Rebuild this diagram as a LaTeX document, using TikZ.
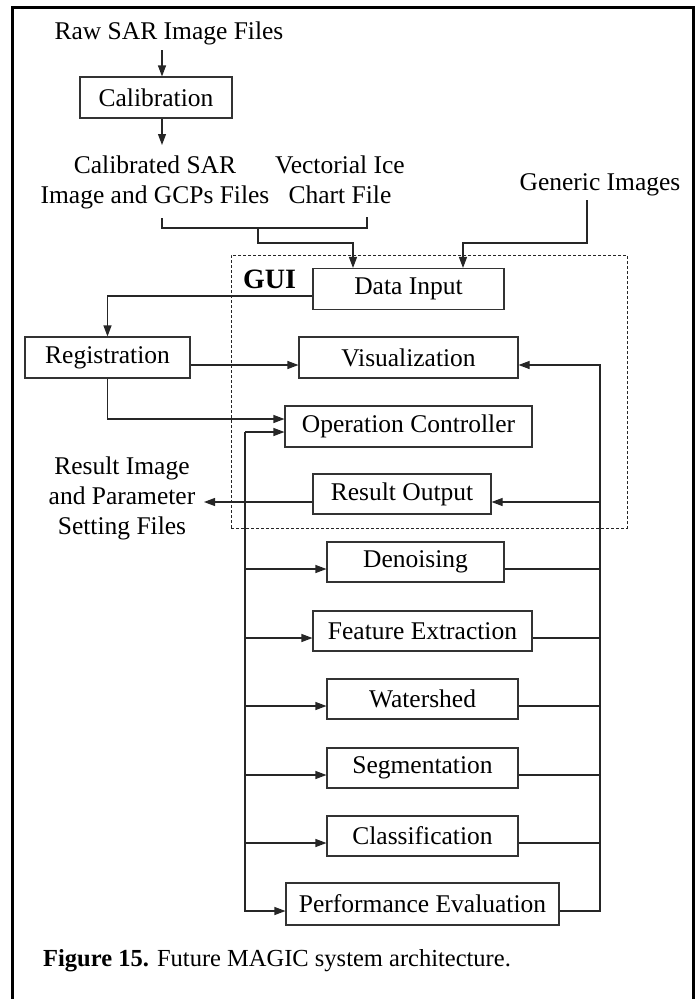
\documentclass[tikz,border=0pt]{standalone}
\usepackage{fontspec}
\setmainfont{Liberation Serif}
\usetikzlibrary{arrows.meta}
\begin{document}
\begin{tikzpicture}[x=1pt,y=-1pt,
  txt/.style={inner sep=0pt,font=\fontsize{25.5}{30}\selectfont,align=center},
  box/.style={txt,draw=black!80,line width=1.1pt,minimum height=41pt},
  conn/.style={line width=1.1pt,draw=black!85},
  arr/.style={conn,-{Triangle[length=11pt,width=8pt]}},
  guibox/.style={draw=black!85,line width=0.9pt,dash pattern=on 3pt off 2pt},
]
\useasboundingbox (0,0) rectangle (699,999);
\draw[line width=3pt,line join=miter] (12,1005) -- (12,7) -- (693,7) -- (693,1005);

% texts
\node[txt,anchor=base] (raw) at (169,39) {Raw SAR Image Files};
\node[box,minimum width=152pt] (cal) at (156,97.5) {Calibration};
\node[txt] (calsar) at (155,182) {Calibrated SAR\\Image and GCPs Files};
\node[txt] (vec) at (340,180) {Vectorial Ice\\Chart File};
\node[txt,anchor=base] (gen) at (600,190) {Generic Images};
\node[txt] (restxt) at (122,498) {Result Image\\and Parameter\\Setting Files};

% GUI region
\node[guibox,minimum width=396pt,minimum height=273pt,inner sep=0pt] (gui) at (429,391.5) {};
\node[inner sep=0pt,anchor=base west,font=\bfseries\fontsize{28}{30}\selectfont] (guilbl) at (243,288) {GUI};

% boxes
\node[box,minimum width=191pt] (din) at (408.5,289) {Data Input};
\node[box,minimum width=165pt] (reg) at (107.5,357.5) {Registration};
\node[box,minimum width=219pt] (vis) at (408.5,357.5) {Visualization};
\node[box,minimum width=247pt] (op) at (408.5,426.5) {Operation Controller};
\node[box,minimum width=178pt,minimum height=40pt] (rout) at (402,494) {Result Output};
\node[box,minimum width=177pt,minimum height=40pt] (den) at (415.5,562) {Denoising};
\node[box,minimum width=219pt,minimum height=40pt] (fe) at (422.5,631) {Feature Extraction};
\node[box,minimum width=191pt,minimum height=40pt] (ws) at (422.5,699) {Watershed};
\node[box,minimum width=191pt,minimum height=40pt] (seg) at (422.5,768) {Segmentation};
\node[box,minimum width=191pt,minimum height=40pt] (cls) at (422.5,836) {Classification};
\node[box,minimum width=273pt,minimum height=42pt] (perf) at (422.5,904) {Performance Evaluation};

% junction coordinates
\coordinate (cs) at (162,218);
\coordinate (vs) at (367,217);
\coordinate (m) at (258,228);
\coordinate (d1) at (353,243);
\coordinate (gs) at (587,200);
\coordinate (d2) at (463,243);
\coordinate (lbt) at (245,432);
\coordinate (rbt) at (600,365);
\coordinate (rtip) at (204,502);

% top connectors
\draw[arr] ([xshift=-7pt]raw.south |- 0,50) -- ([xshift=6pt]cal.north);
\draw[arr] ([xshift=6pt]cal.south) -- ([xshift=6pt]cal.south |- 0,145);
\draw[conn] (cs) |- (m) -| (vs);
\draw[arr] (m) |- (d1) -- (d1 |- din.north);
\draw[arr] (gs) |- (d2) -- (d2 |- din.north);

% registration
\draw[arr] ([yshift=-7pt]din.west) -| (reg.north);
\draw[arr] ([yshift=-7.5pt]reg.east) -- ([yshift=-7.5pt]vis.west);
\draw[arr] (reg.south) |- ([yshift=7.5pt]op.west);

% left bus
\draw[arr] (lbt) -- (lbt -| op.west);
\draw[arr] (lbt) |- ([yshift=-7pt]perf.west);
\foreach \b in {den,fe,ws,seg,cls}
  \draw[arr] ([yshift=-7pt]\b.west -| lbt) -- ([yshift=-7pt]\b.west);

% right bus
\draw[arr] ([yshift=-7pt]perf.east) -| (rbt) -- (rbt -| vis.east);
\foreach \b in {den,fe,ws,seg,cls}
  \draw[conn] ([yshift=-7pt]\b.east) -- ([yshift=-7pt]\b.east -| rbt);
\draw[arr] ([yshift=-8pt]rout.east -| rbt) -- ([yshift=-8pt]rout.east);
\draw[arr] ([yshift=-8pt]rout.west) -- (rtip);

% caption
\node[inner sep=0pt,anchor=base west,font=\fontsize{24.5}{28}\selectfont] (cap) at (43,966) {\textbf{Figure 15.} Future MAGIC system architecture.};
\end{tikzpicture}
\end{document}
